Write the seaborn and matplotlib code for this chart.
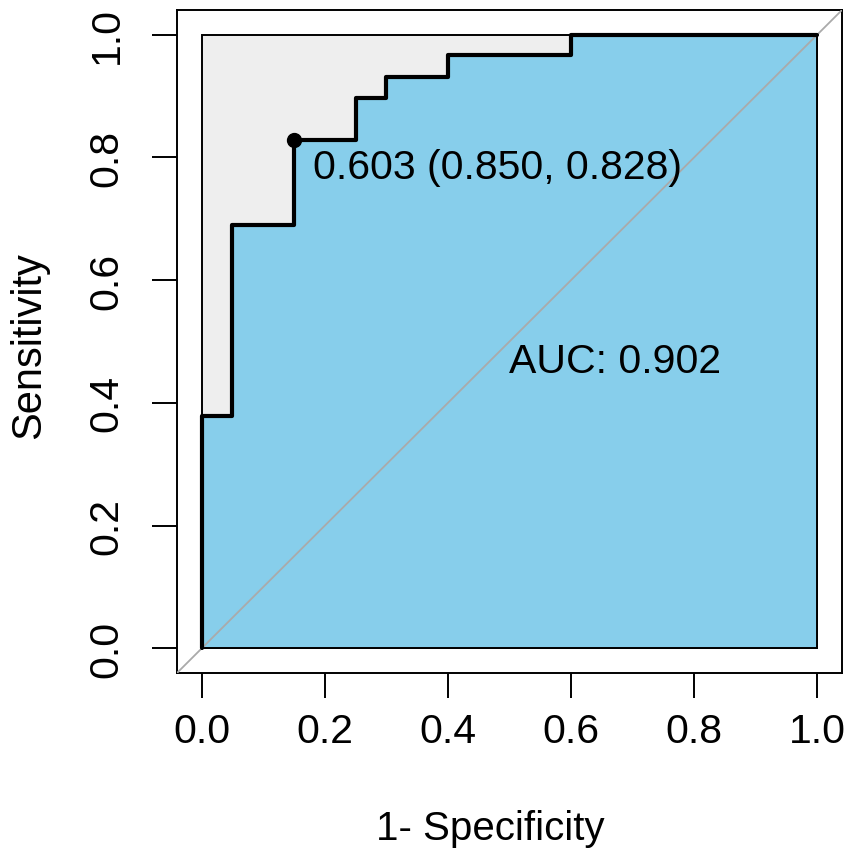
import seaborn as sns
import matplotlib.pyplot as plt
import pandas as pd

# ROC curve (1-specificity vs sensitivity)
fpr = [0.0, 0.0, 0.05, 0.05, 0.15, 0.15, 0.25, 0.25, 0.30, 0.30, 0.40, 0.40, 0.60, 0.60, 1.0]
tpr = [0.0, 0.379, 0.379, 0.690, 0.690, 0.828, 0.828, 0.897, 0.897, 0.931, 0.931, 0.966, 0.966, 1.0, 1.0]
best_thres = 0.603
best_spec = 0.850
best_sens = 0.828
auc_value = 0.902
ticks = [0.0, 0.2, 0.4, 0.6, 0.8, 1.0]
tick_labels = ["0.0", "0.2", "0.4", "0.6", "0.8", "1.0"]

roc = pd.DataFrame({"fpr": fpr, "tpr": tpr})

sns.set_style("ticks")
plt.rcParams["font.family"] = ["Liberation Sans", "DejaVu Sans"]
plt.rcParams["text.color"] = "black"
plt.rcParams["axes.labelcolor"] = "black"
plt.rcParams["xtick.color"] = "black"
plt.rcParams["ytick.color"] = "black"

fig = plt.figure(figsize=(8.51, 8.54), dpi=100)
ax = fig.add_axes([0.208, 0.2108, 0.7814, 0.7763])

# grey max-AUC square, then the blue AUC polygon
ax.fill([0, 0, 1, 1], [0, 1, 1, 0], facecolor="#EEEEEE", edgecolor="black", linewidth=1.4, zorder=1)
ax.fill_between(roc["fpr"], roc["tpr"], 0, facecolor="#87CEEB", edgecolor="black", linewidth=1.4, zorder=2)

# chance diagonal across the whole box
ax.axline((0, 0), (1, 1), color="#AAAAAA", linewidth=1.3, zorder=3)

sns.lineplot(data=roc, x="fpr", y="tpr", sort=False, estimator=None,
             color="black", linewidth=3.0, ax=ax, zorder=4)

# best threshold point
bx = 1 - best_spec
ax.plot([bx], [best_sens], "o", color="black", markersize=10, zorder=5)
ax.annotate(f"{best_thres:.3f} ({best_spec:.3f}, {best_sens:.3f})", xy=(bx, best_sens),
            xytext=(14, -19), textcoords="offset points", ha="left", va="center",
            fontsize=29.5, zorder=6)
ax.annotate(f"AUC: {auc_value:.3f}", xy=(0.5, 0.5), xytext=(0, -14),
            textcoords="offset points", ha="left", va="center", fontsize=29.5, zorder=6)

ax.set_xlim(-0.04, 1.04)
ax.set_ylim(-0.04, 1.04)
ax.set_xticks(ticks)
ax.set_xticklabels(tick_labels)
ax.set_yticks(ticks)
ax.set_yticklabels(tick_labels, rotation=90, va="center")
ax.tick_params(axis="both", length=18, width=1.4, labelsize=29.5)
ax.tick_params(axis="x", pad=10)
ax.tick_params(axis="y", pad=19)
for s in ax.spines.values():
    s.set_linewidth(1.4)
    s.set_color("black")

ax.set_xlabel("1- Specificity", fontsize=29)
ax.set_ylabel("Sensitivity", fontsize=30)
ax.xaxis.set_label_coords(0.4707, -0.205)
ax.yaxis.set_label_coords(-0.192, 0.495)

fig.savefig("out.png", dpi=100)
